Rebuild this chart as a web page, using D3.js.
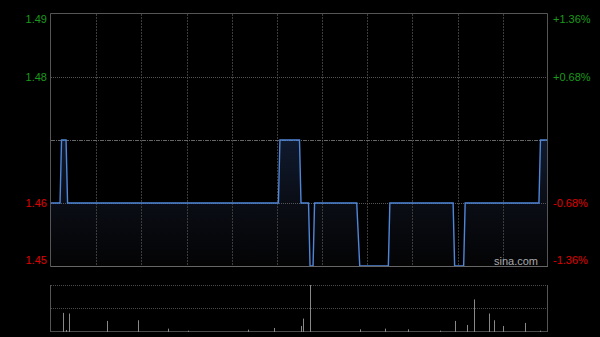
<!DOCTYPE html>
<html><head><meta charset="utf-8">
<script src="https://cdn.jsdelivr.net/npm/d3@7"></script>
<style>html,body{margin:0;padding:0;background:#000;}svg{display:block;}</style>
</head><body>
<svg id="c" width="600" height="337"></svg>
<script>
// price vertices (minute index from 9:30, HK session 330 minutes)
const priceMinutes = [0, 6, 7, 10, 11, 151, 152, 165, 166, 171, 172, 174, 175, 203, 205, 224, 225, 267, 268, 274, 275, 324, 325, 330];
const prices       = [1.46,1.46,1.47,1.47,1.46,1.46,1.47,1.47,1.46,1.46,1.45,1.45,1.46,1.46,1.45,1.45,1.46,1.46,1.45,1.45,1.46,1.46,1.47,1.47];
const prevClose = 1.47;
const leftTicks = [1.49, 1.48, 1.46, 1.45];
const rightTickLabels = ["+1.36%", "+0.68%", "-0.68%", "-1.36%"];
const volMinutes = [8, 10, 12, 37, 58, 78, 91, 131, 148, 166, 167, 172, 205, 222, 237, 258, 268, 276, 281, 291, 294, 300, 315, 325];
const volumes    = [57000, 6000, 55000, 33000, 35000, 10000, 4000, 7000, 12000, 18000, 40000, 140000, 8000, 10000, 8000, 4000, 33000, 21000, 97000, 55000, 35000, 18000, 27000, 4000];
const gridMinutes = [30, 60, 90, 120, 150, 180, 210, 240, 270, 300];

const svg = d3.select("#c");
const L = 51, R = 548, T = 14, B = 266;
const x = d3.scaleLinear().domain([0, 330]).range([L, R]);
const y = d3.scaleLinear().domain([1.45, 1.49]).range([B, T]);
const vy = d3.scaleLinear().domain([0, d3.max(volumes)]).range([332, 285]);

const defs = svg.append("defs");
const g = defs.append("linearGradient").attr("id","fillg").attr("gradientUnits","userSpaceOnUse")
  .attr("x1",0).attr("x2",0).attr("y1",y(1.47)).attr("y2",B);
g.append("stop").attr("offset","0").attr("stop-color","#0f1a2e");
g.append("stop").attr("offset","0.5").attr("stop-color","#0a0d15");
g.append("stop").attr("offset","1").attr("stop-color","#040405");

const pts = priceMinutes.map((m,i)=>[m, prices[i]]);

// area
svg.append("path").datum(pts)
  .attr("d", d3.area().x(d=>x(d[0])).y0(B).y1(d=>y(d[1])))
  .attr("fill","url(#fillg)");

// vertical grid
svg.selectAll("line.vg").data(gridMinutes).enter().append("line")
  .attr("x1",d=>Math.round(x(d))+0.5).attr("x2",d=>Math.round(x(d))+0.5)
  .attr("y1",T).attr("y2",B)
  .attr("stroke","#3c3c3c").attr("stroke-dasharray","2,1");
// horizontal grid
[1.48, 1.46].forEach(v=>{
  svg.append("line").attr("x1",L).attr("x2",R)
    .attr("y1",Math.round(y(v))+0.5).attr("y2",Math.round(y(v))+0.5)
    .attr("stroke","#555").attr("stroke-dasharray","1,1");
});
svg.append("line").attr("x1",L).attr("x2",R)
  .attr("y1",Math.round(y(prevClose))+0.5).attr("y2",Math.round(y(prevClose))+0.5)
  .attr("stroke","#666").attr("stroke-dasharray","4,1,1,1");

// line
svg.append("path").datum(pts)
  .attr("d", d3.line().x(d=>x(d[0])).y(d=>y(d[1])))
  .attr("fill","none").attr("stroke","#4f86d8").attr("stroke-width",1.4);

// frame
svg.append("path").attr("d",`M${L-0.5},${B+0.5}V${T-0.5}H${R-0.5}V${B+0.5}`)
  .attr("fill","none").attr("stroke","#555");
svg.append("line").attr("x1",L-0.5).attr("x2",R).attr("y1",B+0.5).attr("y2",B+0.5).attr("stroke","#666");

// axis labels
const lblY = v => { const p = y(v); return Math.min(Math.max(p, T+5), B-6); };
svg.selectAll("text.l").data(leftTicks).enter().append("text")
  .attr("x",47).attr("y",d=>lblY(d)).attr("dy","0.35em").attr("text-anchor","end")
  .attr("font-family","Liberation Sans, Arial, sans-serif").attr("font-size",11)
  .attr("fill",d=> d>prevClose ? "#1a9a1a" : "#e00000").text(d=>d.toFixed(2));
svg.selectAll("text.r").data(leftTicks).enter().append("text")
  .attr("x",553).attr("y",d=>lblY(d)).attr("dy","0.35em").attr("text-anchor","start")
  .attr("font-family","Liberation Sans, Arial, sans-serif").attr("font-size",11)
  .attr("fill",d=> d>prevClose ? "#1a9a1a" : "#e00000").text((d,i)=>rightTickLabels[i]);

// watermark
svg.append("text").attr("x",538).attr("y",265).attr("text-anchor","end")
  .attr("font-family","Liberation Sans, Arial, sans-serif").attr("font-size",11)
  .attr("fill","#aaa").text("sina.com");

// volume panel
[285.5, 308.5].forEach(yy=>{
  svg.append("line").attr("x1",L).attr("x2",R).attr("y1",yy).attr("y2",yy)
    .attr("stroke","#4a4a4a").attr("stroke-dasharray","1,1");
});
svg.append("line").attr("x1",L).attr("x2",R).attr("y1",331.5).attr("y2",331.5).attr("stroke","#4a4a4a");
svg.append("line").attr("x1",L-0.5).attr("x2",L-0.5).attr("y1",285).attr("y2",332).attr("stroke","#555");
svg.append("line").attr("x1",R-0.5).attr("x2",R-0.5).attr("y1",285).attr("y2",332).attr("stroke","#555");
svg.selectAll("line.v").data(volMinutes).enter().append("line")
  .attr("x1",(d)=>Math.round(x(d))+0.5).attr("x2",(d)=>Math.round(x(d))+0.5)
  .attr("y1",332).attr("y2",(d,i)=>vy(volumes[i]))
  .attr("stroke","#888").attr("stroke-width",1);
</script>
</body></html>
